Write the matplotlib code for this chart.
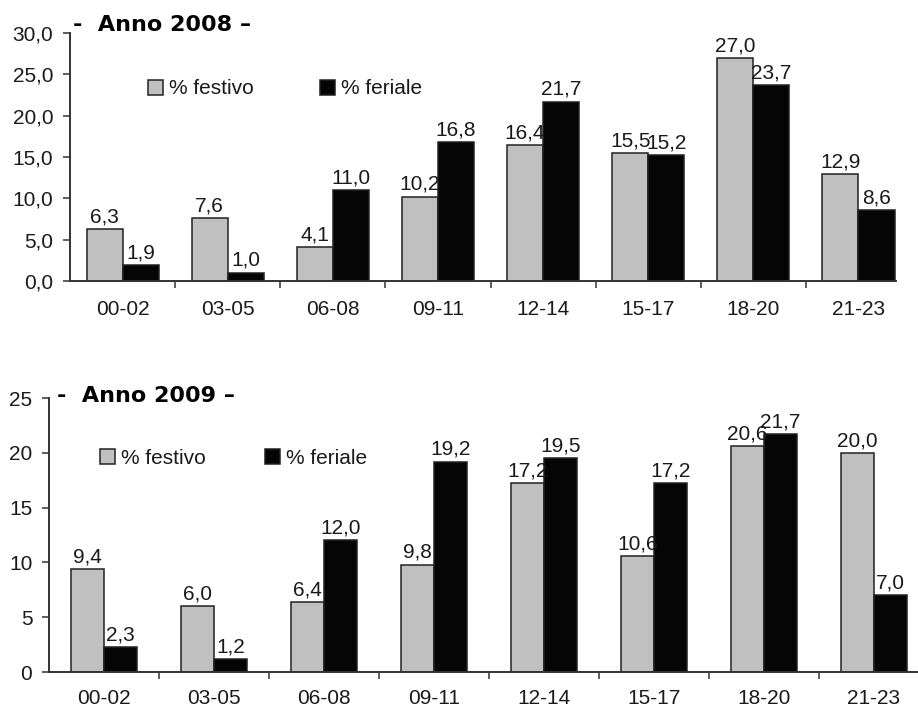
import numpy as np
import matplotlib.pyplot as plt
from matplotlib.ticker import FixedLocator, FuncFormatter

plt.switch_backend('Agg')
plt.rcParams['font.family'] = ['Liberation Sans', 'DejaVu Sans']

fasce = ["00-02", "03-05", "06-08", "09-11", "12-14", "15-17", "18-20", "21-23"]

festivo_2008 = [6.3, 7.6, 4.1, 10.2, 16.4, 15.5, 27.0, 12.9]
feriale_2008 = [1.9, 1.0, 11.0, 16.8, 21.7, 15.2, 23.7, 8.6]

festivo_2009 = [9.4, 6.0, 6.4, 9.8, 17.2, 10.6, 20.6, 20.0]
feriale_2009 = [2.3, 1.2, 12.0, 19.2, 19.5, 17.2, 21.7, 7.0]

GRIGIO = "#c0c0c0"
NERO = "#050505"
TESTO = "#1a1a1a"
FS = 15


def virgola(v, decimali):
    return f"{v:.{decimali}f}".replace(".", ",")


def disegna(ax, festivo, feriale, anno, ymax, ystep, decimali, larghezza, xmax,
            legenda_xy, col_spacing, ypad, xpad, titolo_xy):
    x = np.arange(len(fasce)) + 0.5
    b1 = ax.bar(x - larghezza / 2, festivo, larghezza, color=GRIGIO,
                edgecolor="#222222", linewidth=1.1, label="% festivo")
    b2 = ax.bar(x + larghezza / 2, feriale, larghezza, color=NERO,
                edgecolor="#222222", linewidth=1.1, label="% feriale")

    for barre, valori in ((b1, festivo), (b2, feriale)):
        for r, v in zip(barre, valori):
            ax.annotate(virgola(v, 1), (r.get_x() + r.get_width() / 2, v),
                        xytext=(0, 2), textcoords="offset points",
                        ha="center", va="bottom", fontsize=FS, color=TESTO)

    ax.set_xlim(0, xmax)
    ax.set_ylim(0, ymax)
    ax.set_yticks(np.arange(0, ymax + 0.01, ystep))
    ax.yaxis.set_major_formatter(FuncFormatter(lambda v, p: virgola(v, decimali)))
    ax.set_xticks(x)
    ax.set_xticklabels(fasce)
    ax.xaxis.set_minor_locator(FixedLocator([i for i in range(1, 8)]))

    ax.tick_params(axis="x", which="major", length=0, pad=xpad,
                   labelsize=FS, labelcolor=TESTO)
    ax.tick_params(axis="x", which="minor", length=5, width=1.1,
                   direction="out", color="#333333")
    ax.tick_params(axis="y", length=5, width=1.1, pad=ypad, direction="out",
                   labelsize=FS, labelcolor=TESTO, color="#333333")

    for s in ("top", "right"):
        ax.spines[s].set_visible(False)
    for s in ("left", "bottom"):
        ax.spines[s].set_linewidth(1.4)
        ax.spines[s].set_color("#333333")

    ax.text(titolo_xy[0], titolo_xy[1], "-  Anno " + anno + " \u2013",
            transform=ax.transAxes, ha="left", va="center", fontsize=16,
            fontweight="bold", family="DejaVu Sans", color="black")

    ax.legend(loc="center left", bbox_to_anchor=legenda_xy, ncol=2,
              frameon=False, fontsize=FS, handlelength=0.7, handleheight=0.7,
              handletextpad=0.3, columnspacing=col_spacing, borderaxespad=0,
              borderpad=0, labelcolor=TESTO)


fig = plt.figure(figsize=(9.18, 7.11), dpi=100)

ax1 = fig.add_axes([70 / 918, 1 - 281 / 711, (896 - 70) / 918, (281 - 33) / 711])
disegna(ax1, festivo_2008, feriale_2008, "2008", 30, 5, 1, 0.343, 7.857,
        ((148 - 70) / 826, 1 - (89 - 33) / 248), 3.2, 7, 14,
        (3 / 826, 1 + 8 / 248))

ax2 = fig.add_axes([49 / 918, 1 - 672 / 711, (918 - 49) / 918, (672 - 398) / 711])
disegna(ax2, festivo_2009, feriale_2009, "2009", 25, 5, 0, 0.30, 7.9,
        ((100 - 49) / 869, 1 - (458 - 398) / 274), 2.85, 7, 12,
        (8 / 869, 1 + 2 / 274))

fig.savefig("out.png", dpi=100)
